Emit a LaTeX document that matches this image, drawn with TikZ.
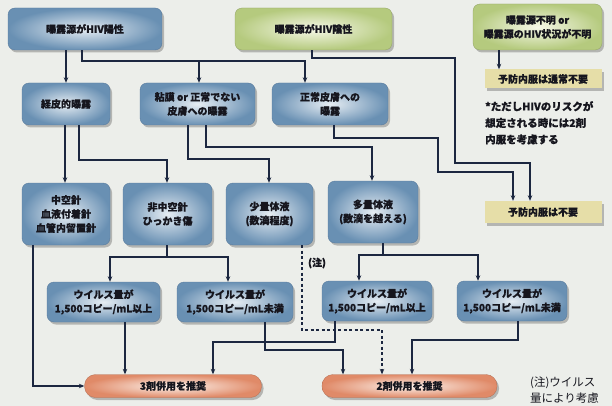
\documentclass[tikz,border=0pt]{standalone}
\usepackage{fontspec}
\setmainfont{Noto Sans CJK JP}[BoldFeatures={FakeBold=0.6}]
\usetikzlibrary{arrows.meta,shadows}
\definecolor{paper}{HTML}{ECEEEA}
\definecolor{ink}{HTML}{1C2740}
\definecolor{txt}{HTML}{16161E}
\definecolor{bluein}{HTML}{E6EDF3}
\definecolor{blueout}{HTML}{6990B3}
\definecolor{blueedge}{HTML}{5A7C9E}
\definecolor{greenin}{HTML}{F6F8E8}
\definecolor{greenout}{HTML}{B5CA7E}
\definecolor{khaki}{HTML}{E6DEA8}
\definecolor{orangein}{HTML}{FDF4EE}
\definecolor{orangeout}{HTML}{E08A68}
\tikzset{
  every node/.style={font=\fontsize{10}{14}\selectfont\bfseries, text=txt, align=center},
  shad/.style={drop shadow={shadow xshift=2pt,shadow yshift=-2.5pt,opacity=0.35,fill=black!70}},
  bluebox/.style={rectangle, rounded corners=7pt, inner color=bluein, outer color=blueout, draw=blueedge, line width=0.4pt, shad},
  greenbox/.style={rectangle, rounded corners=7pt, inner color=greenin, outer color=greenout, draw=greenout!80!black, line width=0.3pt, shad},
  notebox/.style={rectangle, fill=khaki, shad},
  pill/.style={rectangle, rounded corners=11pt, inner color=orangein, outer color=orangeout, draw=orangeout!80!black, line width=0.3pt, shad},
  conn/.style={draw=ink, line width=1.1pt, -{Stealth[length=5.5pt,width=4.5pt]}},
  link/.style={draw=ink, line width=1.1pt},
  dconn/.style={conn, dashed, dash pattern=on 3pt off 2.5pt},
}
\begin{document}
\begin{tikzpicture}[x=1pt,y=-1pt]
\fill[paper] (0,0) rectangle (612,406);
\useasboundingbox (0,0) rectangle (612,406);

% top row
\node[bluebox, minimum width=154pt, minimum height=42pt] (A) at (85,29) {曝露源がHIV陽性};
\node[greenbox, minimum width=157pt, minimum height=42pt] (B) at (313.5,29) {曝露源がHIV陰性};
\node[greenbox, minimum width=129pt, minimum height=46pt] (C) at (537.5,27) {曝露源不明 or\\曝露源のHIV状況が不明};
\node[notebox, minimum width=117pt, minimum height=19pt] (N1) at (543,79) {予防内服は通常不要};
\node[anchor=north west, align=left, inner sep=0pt, font=\fontsize{10.5}{16.5}\selectfont\bfseries] (N2) at (485,101) {*ただしHIVのリスクが\\想定される時には2剤\\内服を考慮する};

% second row
\node[bluebox, minimum width=88pt, minimum height=42pt] (D) at (66,104) {経皮的曝露};
\node[bluebox, minimum width=115pt, minimum height=42pt] (E) at (197.5,104) {粘膜 or 正常でない\\皮膚への曝露};
\node[bluebox, minimum width=116pt, minimum height=42pt] (F) at (330,104) {正常皮膚への\\曝露};

% third row
\node[bluebox, minimum width=88pt, minimum height=62pt] (G) at (66,214) {中空針\\血液付着針\\血管内留置針};
\node[bluebox, minimum width=89pt, minimum height=62pt] (H) at (167.5,214) {非中空針\\ひっかき傷};
\node[bluebox, minimum width=87pt, minimum height=62pt] (I) at (269.5,214) {少量体液\\(数滴程度)};
\node[bluebox, minimum width=90pt, minimum height=62pt] (J) at (373,212) {多量体液\\(数滴を越える)};
\node[notebox, minimum width=117pt, minimum height=22pt] (K) at (543,212) {予防内服は不要};

% fourth row
\node[bluebox, minimum width=113pt, minimum height=40pt] (L1) at (103.5,302) {ウイルス量が\\1,500コピー/mL以上};
\node[bluebox, minimum width=116pt, minimum height=40pt] (L2) at (235,302) {ウイルス量が\\1,500コピー/mL未満};
\node[bluebox, minimum width=110pt, minimum height=40pt] (L3) at (377,301) {ウイルス量が\\1,500コピー/mL以上};
\node[bluebox, minimum width=110pt, minimum height=40pt] (L4) at (512,301) {ウイルス量が\\1,500コピー/mL未満};

% results
\node[pill, minimum width=177pt, minimum height=23pt] (R3) at (173,386) {3剤併用を推奨};
\node[pill, minimum width=175pt, minimum height=23pt] (R2) at (409.5,386) {2剤併用を推奨};

% notes
\node[inner sep=0pt] (Z1) at (317,263) {(注)};
\node[anchor=north west, align=left, inner sep=0pt, font=\fontsize{11.5}{16}\selectfont] (Z2) at (530,377) {(注)ウイルス\\量により考慮};

% connectors
\draw[conn] (A.south -| 66,0) -- (D.north -| 66,0);
\draw[conn] (A.south -| 82,0) -- (82,61) -- (305,61) -- (F.north -| 305,0);
\draw[conn] (199,61) -- (E.north -| 199,0);
\draw[conn] (B.south -| 312,0) -- (312,58) -- (455,58) -- (455,163) -- (530,163) -- (K.north -| 530,0);
\draw[conn] (C.south -| 499,0) -- (N1.north -| 499,0);

\draw[conn] (D.south -| 65,0) -- (G.north -| 65,0);
\draw[conn] (D.south -| 79,0) -- (79,160) -- (167,160) -- (H.north -| 167,0);
\draw[conn] (E.south -| 188,0) -- (188,159) -- (269,159) -- (I.north -| 269,0);
\draw[conn] (E.south -| 206,0) -- (206,147) -- (372,147) -- (J.north -| 372,0);
\draw[conn] (F.south -| 334,0) -- (334,138) -- (438,138) -- (438,172) -- (513,172) -- (K.north -| 513,0);

\draw[conn] (G.south -| 33,0) -- (33,386) -- (R3.west);
\draw[link] (H.south -| 167,0) -- (167,257);
\draw[conn] (110,257) -- (228,257) -- (L2.north -| 228,0);
\draw[conn] (228,257) -- (110,257) -- (L1.north -| 110,0);
\draw[link] (J.south -| 383,0) -- (383,255);
\draw[conn] (359,255) -- (478,255) -- (L4.north -| 478,0);
\draw[conn] (478,255) -- (359,255) -- (L3.north -| 359,0);

\draw[dconn] (I.south -| 302,0) -- (302,330) -- (382,330) -- (R2.north -| 382,0);

\draw[conn] (L1.south -| 125,0) -- (R3.north -| 125,0);
\draw[conn] (L2.south -| 265,0) -- (265,350) -- (343,350) -- (R2.north -| 343,0);
\draw[conn] (L3.south -| 335,0) -- (335,342) -- (213,342) -- (R3.north -| 213,0);
\draw[conn] (L4.south -| 518,0) -- (518,340) -- (412,340) -- (R2.north -| 412,0);
\end{tikzpicture}
\end{document}
